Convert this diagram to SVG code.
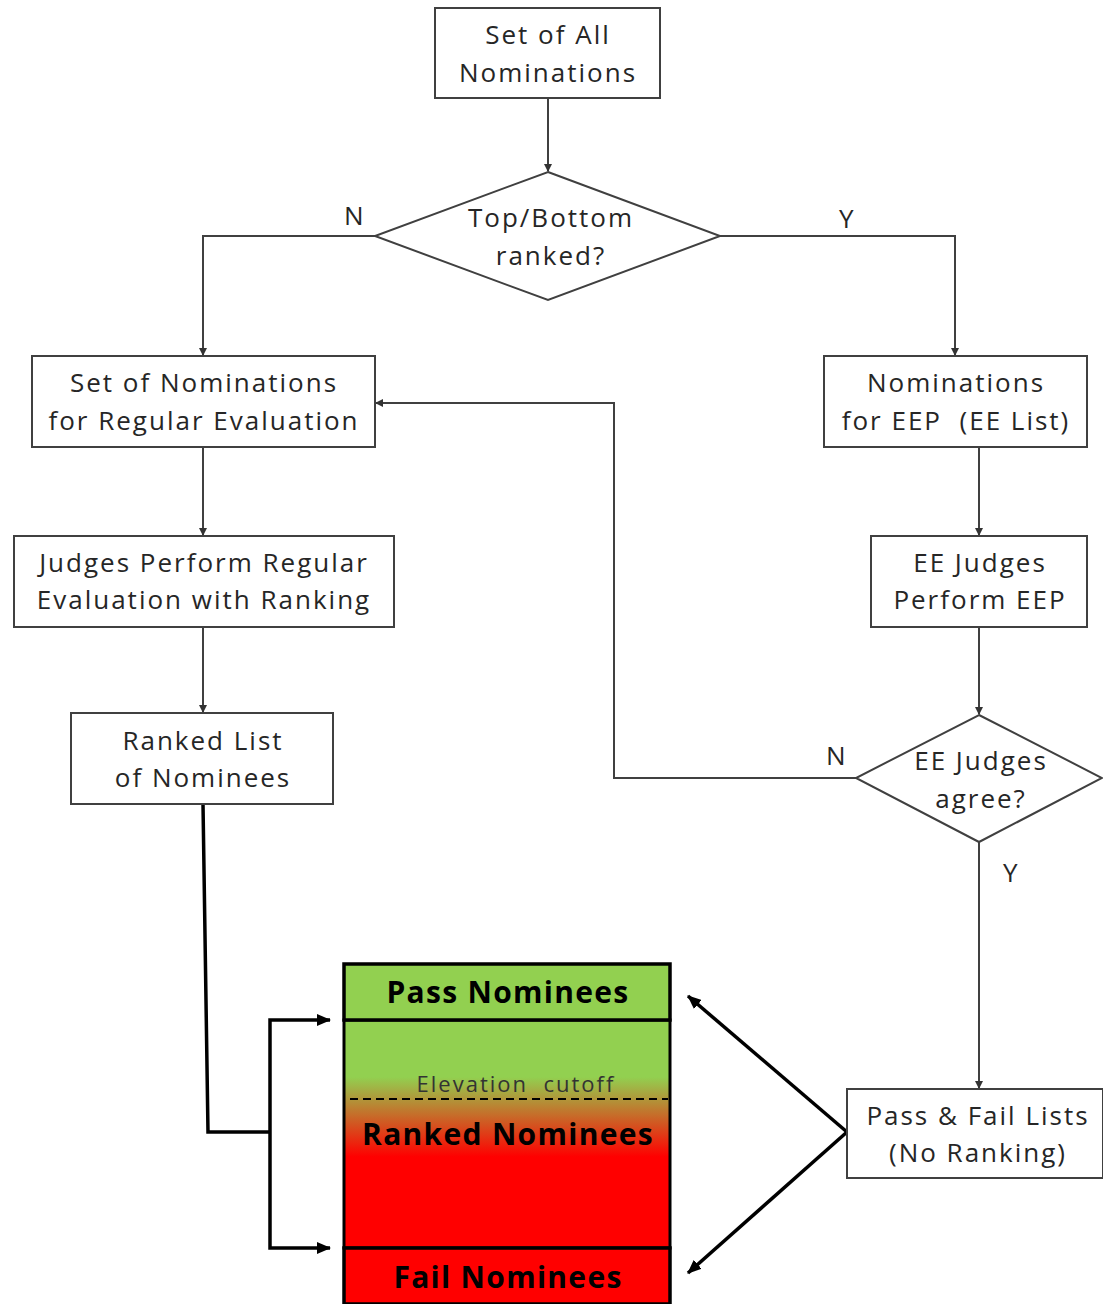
<svg xmlns="http://www.w3.org/2000/svg" width="1103" height="1304" viewBox="0 0 1103 1304">
<defs>
<style>
.box{fill:#fff;stroke:#404040;stroke-width:2}
.t{font-family:"Open Sans","DejaVu Sans",sans-serif;font-size:26px;letter-spacing:2px;fill:#262626;text-anchor:middle}
.lbl{font-family:"Open Sans","DejaVu Sans",sans-serif;font-size:26px;fill:#262626}
.b{font-family:"Open Sans","DejaVu Sans",sans-serif;font-size:30px;letter-spacing:1.3px;font-weight:bold;fill:#000;text-anchor:middle}
.g{fill:none;stroke:#404040;stroke-width:2}
.k{fill:none;stroke:#000;stroke-width:3.5}
</style>
<marker id="ag" markerWidth="8" markerHeight="8" refX="7" refY="4" orient="auto" markerUnits="userSpaceOnUse" viewBox="0 0 8 8"><path d="M0,0 L8,4 L0,8 z" fill="#333"/></marker>
<marker id="ak" markerWidth="14" markerHeight="12" refX="13" refY="6" orient="auto" markerUnits="userSpaceOnUse" viewBox="0 0 14 12"><path d="M0,0 L14,6 L0,12 z" fill="#000"/></marker>
<linearGradient id="grad" x1="0" y1="1020" x2="0" y2="1248" gradientUnits="userSpaceOnUse">
<stop offset="0" stop-color="#92d050"/>
<stop offset="0.25" stop-color="#92d050"/>
<stop offset="0.6" stop-color="#ff0000"/>
<stop offset="1" stop-color="#ff0000"/>
</linearGradient>
</defs>
<rect width="1103" height="1304" fill="#fff"/>
<g id="connectors">
<path class="g" d="M548,98 V171" marker-end="url(#ag)"/>
<path class="g" d="M375,236 H203 V355" marker-end="url(#ag)"/>
<path class="g" d="M720,236 H955 V355" marker-end="url(#ag)"/>
<path class="g" d="M203,447 V535" marker-end="url(#ag)"/>
<path class="g" d="M979,447 V535" marker-end="url(#ag)"/>
<path class="g" d="M203,627 V712" marker-end="url(#ag)"/>
<path class="g" d="M979,627 V714" marker-end="url(#ag)"/>
<path class="g" d="M856,778 H614 V403 H376" marker-end="url(#ag)"/>
<path class="g" d="M979,842 V1088" marker-end="url(#ag)"/>
<path class="k" d="M203,804 L208,1132 H270"/>
<path class="k" d="M270,1132 V1020 H330" marker-end="url(#ak)"/>
<path class="k" d="M270,1132 V1248 H330" marker-end="url(#ak)"/>
<path class="k" d="M847,1132 L688,996" marker-end="url(#ak)"/>
<path class="k" d="M847,1132 L688,1273" marker-end="url(#ak)"/>
<text class="lbl" x="344" y="225">N</text>
<text class="lbl" x="839" y="228">Y</text>
<text class="lbl" x="826" y="765">N</text>
<text class="lbl" x="1003" y="882">Y</text>
</g>
<g id="n-all">
<rect class="box" x="435" y="8" width="225" height="90"/>
<text class="t" x="548" y="44">Set of All</text>
<text class="t" x="548" y="82">Nominations</text>
</g>
<g id="n-topbottom">
<polygon class="box" points="548,172 720,236 548,300 375,236"/>
<text class="t" x="551" y="227">Top/Bottom</text>
<text class="t" x="551" y="265">ranked?</text>
</g>
<g id="n-regular">
<rect class="box" x="32" y="356" width="343" height="91"/>
<text class="t" x="204" y="392">Set of Nominations</text>
<text class="t" x="204" y="430">for Regular Evaluation</text>
</g>
<g id="n-eep">
<rect class="box" x="824" y="356" width="263" height="91"/>
<text class="t" x="956" y="392">Nominations</text>
<text class="t" x="956" y="430">for EEP&#160; (EE List)</text>
</g>
<g id="n-judges">
<rect class="box" x="14" y="536" width="380" height="91"/>
<text class="t" x="204" y="572">Judges Perform Regular</text>
<text class="t" x="204" y="609">Evaluation with Ranking</text>
</g>
<g id="n-eejudges">
<rect class="box" x="871" y="536" width="216" height="91"/>
<text class="t" x="980" y="572">EE Judges</text>
<text class="t" x="980" y="609">Perform EEP</text>
</g>
<g id="n-ranked">
<rect class="box" x="71" y="713" width="262" height="91"/>
<text class="t" x="203" y="750">Ranked List</text>
<text class="t" x="203" y="787">of Nominees</text>
</g>
<g id="n-agree">
<polygon class="box" points="979,715 1102,778 979,842 856,778"/>
<text class="t" x="981" y="770">EE Judges</text>
<text class="t" x="981" y="808">agree?</text>
</g>
<g id="n-passfail">
<rect class="box" x="847" y="1089" width="256" height="89"/>
<text class="t" x="978" y="1125">Pass &amp; Fail Lists</text>
<text class="t" x="978" y="1162">(No Ranking)</text>
</g>
<g id="n-list">
<rect x="344" y="1020" width="326" height="228" fill="url(#grad)" stroke="#000" stroke-width="3"/>
<rect x="344" y="964" width="326" height="56" fill="#92d050" stroke="#000" stroke-width="3.5"/>
<rect x="344" y="1248" width="326" height="56" fill="#ff0000" stroke="#000" stroke-width="3.5"/>
<line x1="350" y1="1099" x2="668" y2="1099" stroke="#000" stroke-width="2" stroke-dasharray="8,5"/>
<text x="516" y="1092" font-family="'Open Sans','DejaVu Sans',sans-serif" font-size="22" letter-spacing="2" fill="#333" text-anchor="middle">Elevation&#160; cutoff</text>
<text class="b" x="508" y="1003">Pass Nominees</text>
<text class="b" x="508" y="1145">Ranked Nominees</text>
<text class="b" x="508" y="1288">Fail Nominees</text>
</g>
</svg>
